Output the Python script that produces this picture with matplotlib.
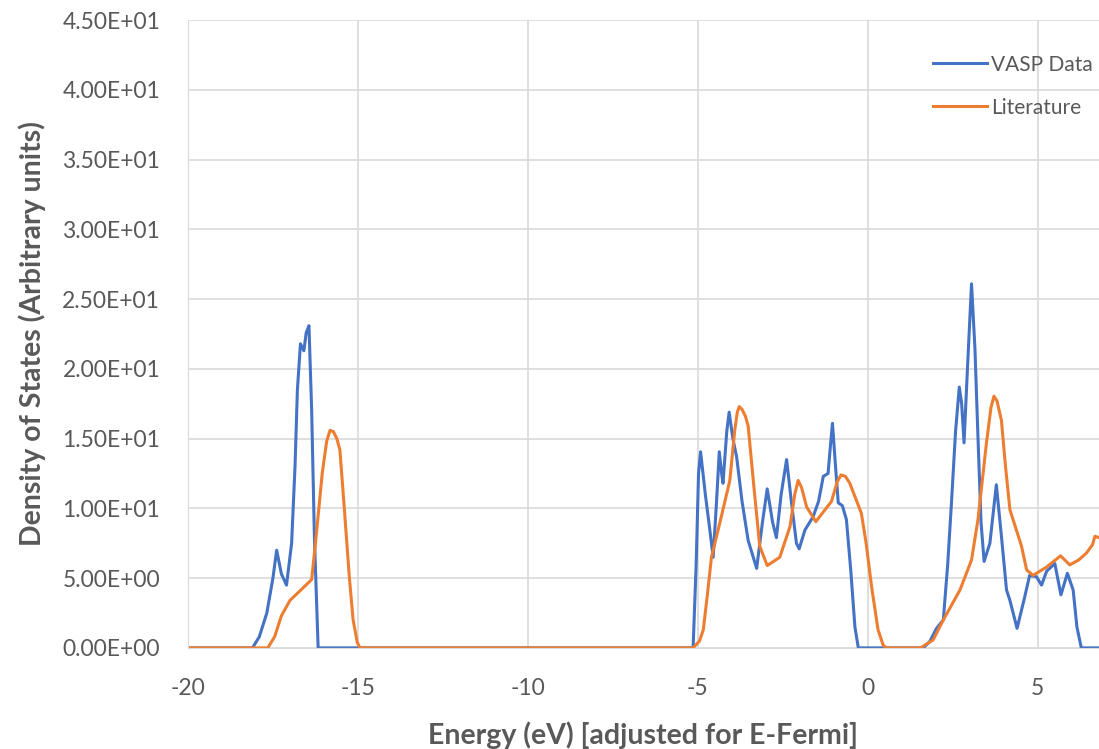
import matplotlib
matplotlib.use('Agg')
import matplotlib.pyplot as plt
from matplotlib.ticker import FuncFormatter

plt.rcParams['font.family'] = ['Lato', 'DejaVu Sans']
plt.rcParams['axes.unicode_minus'] = False

# VASP Data (blue)
vasp_e = [-20, -18.1, -17.9, -17.68, -17.5, -17.39, -17.25, -17.10, -16.95, -16.85,
          -16.78, -16.69, -16.59, -16.52, -16.44, -16.36, -16.28, -16.17,
          -5.14, -5.05, -4.98, -4.92, -4.78, -4.65, -4.55, -4.45, -4.37, -4.30,
          -4.26, -4.15, -4.08, -3.97, -3.86, -3.70, -3.52, -3.27, -3.10, -2.96,
          -2.80, -2.69, -2.55, -2.39, -2.25, -2.10, -2.02, -1.85, -1.61, -1.45,
          -1.31, -1.17, -1.10, -1.04, -0.95, -0.87, -0.75, -0.63, -0.50, -0.38,
          -0.28, 1.63, 1.82, 2.02, 2.22, 2.35, 2.46, 2.58, 2.69, 2.76, 2.83,
          2.93, 3.05, 3.15, 3.24, 3.33, 3.42, 3.59, 3.78, 3.93, 4.08, 4.18,
          4.39, 4.60, 4.76, 4.96, 5.11, 5.26, 5.50, 5.60, 5.68, 5.87, 6.04,
          6.15, 6.28, 6.8]
vasp_dos = [0, 0, 0.8, 2.5, 5.0, 7.0, 5.3, 4.5, 7.5, 13.0,
            18.5, 21.8, 21.3, 22.6, 23.1, 17.0, 8.0, 0,
            0, 6.0, 12.5, 14.06, 11.0, 8.5, 6.5, 10.5, 14.06, 12.5,
            11.8, 15.5, 16.9, 15.0, 13.7, 10.5, 7.7, 5.7, 9.0, 11.4,
            9.0, 7.9, 11.0, 13.5, 10.5, 7.5, 7.1, 8.45, 9.4, 10.5,
            12.3, 12.5, 14.5, 16.1, 13.0, 10.4, 10.2, 9.2, 5.5, 1.5,
            0, 0, 0.45, 1.4, 2.0, 6.0, 10.4, 15.5, 18.7, 17.5, 14.7,
            20.0, 26.1, 21.5, 15.1, 9.0, 6.2, 7.5, 11.7, 8.0, 4.15, 3.4,
            1.4, 3.5, 5.2, 5.1, 4.5, 5.5, 6.05, 4.8, 3.8, 5.35, 4.15,
            1.5, 0, 0]

# Literature (orange)
lit_e = [-20, -17.65, -17.45, -17.25, -17.0, -16.7, -16.36, -16.22, -16.05, -15.92,
         -15.82, -15.72, -15.62, -15.53, -15.4, -15.25, -15.14, -15.02, -14.94,
         -5.14, -4.95, -4.84, -4.72, -4.6, -4.35, -4.06, -3.92, -3.84, -3.78,
         -3.70, -3.60, -3.52, -3.35, -3.18, -2.96, -2.59, -2.29, -2.15, -2.05,
         -1.95, -1.80, -1.53, -1.07, -0.90, -0.79, -0.66, -0.53, -0.19, -0.05,
         0.11, 0.3, 0.45, 0.55,
         1.55, 1.92, 2.22, 2.71, 3.05, 3.24, 3.49, 3.62, 3.71, 3.80, 3.93, 4.05,
         4.18, 4.52, 4.67, 4.86, 5.26, 5.67, 5.94, 6.2, 6.43, 6.61, 6.68, 6.8]
lit_dos = [0, 0, 0.8, 2.3, 3.4, 4.1, 4.9, 8.2, 12.5, 14.8,
           15.6, 15.5, 15.0, 14.2, 10.0, 5.0, 2.0, 0.4, 0,
           0, 0.5, 1.3, 3.8, 6.5, 9.0, 12.0, 15.5, 16.9, 17.3,
           17.1, 16.6, 15.9, 11.5, 7.3, 5.9, 6.5, 8.7, 11.0, 12.0,
           11.5, 10.1, 9.05, 10.5, 11.9, 12.4, 12.3, 11.8, 9.65, 7.5,
           4.4, 1.3, 0.2, 0,
           0, 0.57, 2.0, 4.15, 6.3, 9.2, 14.7, 17.2, 18.05, 17.7, 16.3, 13.0,
           9.9, 7.3, 5.6, 5.2, 5.8, 6.6, 5.95, 6.3, 6.8, 7.4, 8.0, 7.9]

x_ticks = [-20, -15, -10, -5, 0, 5]
y_ticks = [0, 5, 10, 15, 20, 25, 30, 35, 40, 45]

gray = '#595959'
grid = '#d9d9d9'

fig = plt.figure(figsize=(10.99, 7.49), dpi=100)
ax = fig.add_axes([0.171, 0.135, 0.829, 0.838])

ax.plot(vasp_e, vasp_dos, color='#4472C4', lw=2.2, label='VASP Data')
ax.plot(lit_e, lit_dos, color='#ED7D31', lw=2.2, label='Literature')

ax.set_xlim(-20, 6.8)
ax.set_ylim(0, 45)
ax.set_xticks(x_ticks)
ax.set_yticks(y_ticks)
ax.yaxis.set_major_formatter(FuncFormatter(lambda v, p: '{:.2E}'.format(v)))
ax.grid(True, color=grid, lw=1.2)
ax.set_axisbelow(True)
for s in ['top', 'right']:
    ax.spines[s].set_visible(False)
ax.spines['left'].set_color(grid)
ax.spines['bottom'].set_color(grid)
ax.tick_params(length=0, colors=gray, labelsize=16.5)
ax.tick_params(axis='x', pad=22)
ax.tick_params(axis='y', pad=20)

ax.set_xlabel('Energy (eV) [adjusted for E-Fermi]', fontsize=20.5, fontweight='bold',
              color=gray, labelpad=16)
ax.set_ylabel('Density of States (Arbitrary units)', fontsize=20.5, fontweight='bold',
              color=gray, labelpad=12)

leg = ax.legend(loc='upper right', bbox_to_anchor=(1.014, 0.975), frameon=False,
                fontsize=15, handlelength=2.6, handletextpad=0.2, labelspacing=1.1)
for t in leg.get_texts():
    t.set_color(gray)

fig.savefig('out.png', dpi=100)
